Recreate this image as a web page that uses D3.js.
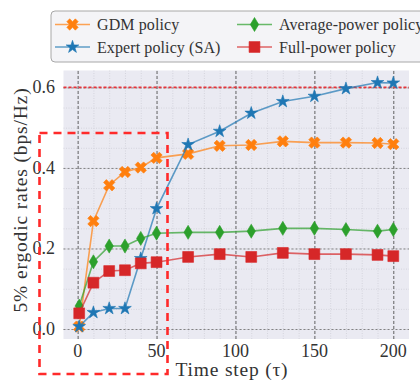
<!DOCTYPE html>
<html>
<head>
<meta charset="utf-8">
<script src="https://cdn.jsdelivr.net/npm/d3@7"></script>
</head>
<body style="margin:0">
<div id="canvas"></div>
<script>
// data
const steps = [1, 10, 20, 30, 40, 50, 70, 90, 110, 130, 150, 170, 190, 200];
const gdm = [0.006, 0.268, 0.357, 0.390, 0.401, 0.425, 0.435, 0.455, 0.457, 0.466, 0.463, 0.463, 0.462, 0.459];
const expert = [0.006, 0.041, 0.051, 0.051, 0.175, 0.299, 0.458, 0.491, 0.536, 0.565, 0.578, 0.597, 0.612, 0.611];
const average = [0.057, 0.167, 0.206, 0.206, 0.225, 0.238, 0.240, 0.240, 0.243, 0.250, 0.250, 0.247, 0.243, 0.247];
const full = [0.039, 0.115, 0.144, 0.146, 0.163, 0.166, 0.179, 0.186, 0.179, 0.189, 0.186, 0.186, 0.184, 0.181];
const refValue = 0.6;

const xTicks = [0, 50, 100, 150, 200];
const yTicks = [0, 0.2, 0.4, 0.6];
const seriesNames = ["GDM policy", "Expert policy (SA)", "Average-power policy", "Full-power policy"];

const width = 420;
const height = 388;
const plotLeft = 63.5, plotRight = 409, plotTop = 70.5, plotBottom = 339;
const fontName = "Liberation Serif";

const svg = d3.select("#canvas")
    .append("svg")
    .attr("width", width)
    .attr("height", height)
    .attr("font-family", fontName)
    .style("font-family", fontName);

const x = d3.scaleLinear().domain([-8.95, 209.95]).range([plotLeft, plotRight]);
const y = d3.scaleLinear().domain([-0.0248, 0.642]).range([plotBottom, plotTop]);

// plot background
svg.append("rect")
    .attr("x", plotLeft)
    .attr("y", plotTop)
    .attr("width", plotRight - plotLeft)
    .attr("height", plotBottom - plotTop)
    .attr("fill", "#eaeaf2");

// minor grid
svg.append("g")
    .attr("transform", `translate(0,${plotBottom})`)
    .call(d3.axisBottom(x).tickValues(d3.range(0, 210, 10)).tickSize(-(plotBottom - plotTop)).tickFormat(""))
    .call(g => g.select(".domain").remove())
    .selectAll("line")
    .attr("stroke", "#cfcfd8")
    .attr("stroke-width", 0.8)
    .attr("stroke-dasharray", "1,1.5");

svg.append("g")
    .attr("transform", `translate(${plotLeft},0)`)
    .call(d3.axisLeft(y).tickValues(d3.range(0, 0.65, 0.05)).tickSize(-(plotRight - plotLeft)).tickFormat(""))
    .call(g => g.select(".domain").remove())
    .selectAll("line")
    .attr("stroke", "#cfcfd8")
    .attr("stroke-width", 0.8)
    .attr("stroke-dasharray", "1,1.5");

// major grid lines
const xGrid = svg.append("g")
    .attr("transform", `translate(0,${plotBottom})`)
    .call(d3.axisBottom(x).tickValues(xTicks).tickSize(-(plotBottom - plotTop)).tickFormat(""));
xGrid.select(".domain").remove();
xGrid.selectAll("line")
    .attr("stroke", "#555")
    .attr("stroke-width", 0.9)
    .attr("stroke-dasharray", "3,2");

const yGrid = svg.append("g")
    .attr("transform", `translate(${plotLeft},0)`)
    .call(d3.axisLeft(y).tickValues(yTicks).tickSize(-(plotRight - plotLeft)).tickFormat(""));
yGrid.select(".domain").remove();
yGrid.selectAll("line")
    .attr("stroke", "#777")
    .attr("stroke-width", 0.9)
    .attr("stroke-dasharray", "2,2");

// tick labels
xTicks.forEach(t => {
    svg.append("text")
        .attr("x", x(t))
        .attr("y", 357)
        .attr("text-anchor", "middle")
        .attr("font-size", 18)
        .attr("fill", "#333")
        .style("font-family", fontName)
        .text(d3.format("d")(t));
});

yTicks.forEach(t => {
    svg.append("text")
        .attr("x", 55)
        .attr("y", y(t) + 6)
        .attr("text-anchor", "end")
        .attr("font-size", 18)
        .attr("fill", "#333")
        .style("font-family", fontName)
        .text(d3.format(".1f")(t));
});

// red reference line
svg.append("line")
    .attr("x1", plotLeft)
    .attr("x2", plotRight)
    .attr("y1", y(refValue))
    .attr("y2", y(refValue))
    .attr("stroke", "#e8343a")
    .attr("stroke-width", 1.6)
    .attr("stroke-dasharray", "3,2");

// markers
const xMarker = d3.symbol().type(d3.symbolCross).size(80);
const starMarker = d3.symbol().type(d3.symbolStar).size(50);
const squareMarker = d3.symbol().type(d3.symbolSquare).size(118);
const diamondPath = "M0,-7L4.2,0L0,7L-4.2,0Z";

const series = [
    {name: seriesNames[0], values: gdm, color: "#ff7f0e", marker: (sel) => sel.append("path").attr("d", xMarker()).attr("transform", "rotate(45)")},
    {name: seriesNames[1], values: expert, color: "#1f77b4", marker: (sel) => sel.append("path").attr("d", starMarker())},
    {name: seriesNames[2], values: average, color: "#2ca02c", marker: (sel) => sel.append("path").attr("d", diamondPath)},
    {name: seriesNames[3], values: full, color: "#d62728", marker: (sel) => sel.append("path").attr("d", squareMarker())}
];

const line = d3.line()
    .x(d => x(d[0]))
    .y(d => y(d[1]));

series.forEach(s => {
    const pts = steps.map((t, i) => [t, s.values[i]]);

    svg.append("path")
        .datum(pts)
        .attr("d", line)
        .attr("fill", "none")
        .attr("stroke", s.color)
        .attr("stroke-opacity", 0.7)
        .attr("stroke-width", 1.6);

    pts.forEach(p => {
        const g = svg.append("g")
            .attr("transform", `translate(${x(p[0])},${y(p[1])})`);
        s.marker(g);
        g.selectAll("path")
            .attr("fill", s.color)
            .attr("stroke", s.color)
            .attr("stroke-width", 0.6);
    });
});

// zoom box annotation
svg.append("rect")
    .attr("x", 39.5)
    .attr("y", 133)
    .attr("width", 128)
    .attr("height", 241)
    .attr("fill", "none")
    .attr("stroke", "#ff2a2a")
    .attr("stroke-width", 2.6)
    .attr("stroke-dasharray", "8,6");

// axis labels
svg.append("text")
    .attr("x", 232)
    .attr("y", 376)
    .attr("text-anchor", "middle")
    .attr("fill", "#333")
    .attr("font-size", 19.5)
    .attr("letter-spacing", 0.8)
    .style("font-family", fontName)
    .text("Time step (τ)");

svg.append("text")
    .attr("transform", "translate(27,200)rotate(-90)")
    .attr("text-anchor", "middle")
    .attr("fill", "#333")
    .attr("font-size", 19.5)
    .attr("letter-spacing", 0.85)
    .style("font-family", fontName)
    .text("5% ergodic rates (bps/Hz)");

// legend
svg.append("rect")
    .attr("x", 51)
    .attr("y", 11)
    .attr("width", 380)
    .attr("height", 51)
    .attr("rx", 4)
    .attr("fill", "#f4f4f7")
    .attr("stroke", "#a8a8a8")
    .attr("stroke-width", 1);

const legendPos = [[55, 24.5], [55, 47], [237, 24.5], [237, 47]];

series.forEach((s, i) => {
    const [lx, ly] = legendPos[i];
    svg.append("line")
        .attr("x1", lx)
        .attr("x2", lx + 35)
        .attr("y1", ly)
        .attr("y2", ly)
        .attr("stroke", s.color)
        .attr("stroke-opacity", 0.7)
        .attr("stroke-width", 1.6);
    const g = svg.append("g")
        .attr("transform", `translate(${lx + 17.5},${ly})`);
    s.marker(g);
    g.selectAll("path")
        .attr("fill", s.color)
        .attr("stroke", s.color)
        .attr("stroke-width", 0.6);
    svg.append("text")
        .attr("x", lx + 42)
        .attr("y", ly + 5.5)
        .attr("fill", "#333")
        .attr("font-size", 16)
        .attr("letter-spacing", 0.1)
        .style("font-family", fontName)
        .text(s.name);
});
</script>
</body>
</html>
